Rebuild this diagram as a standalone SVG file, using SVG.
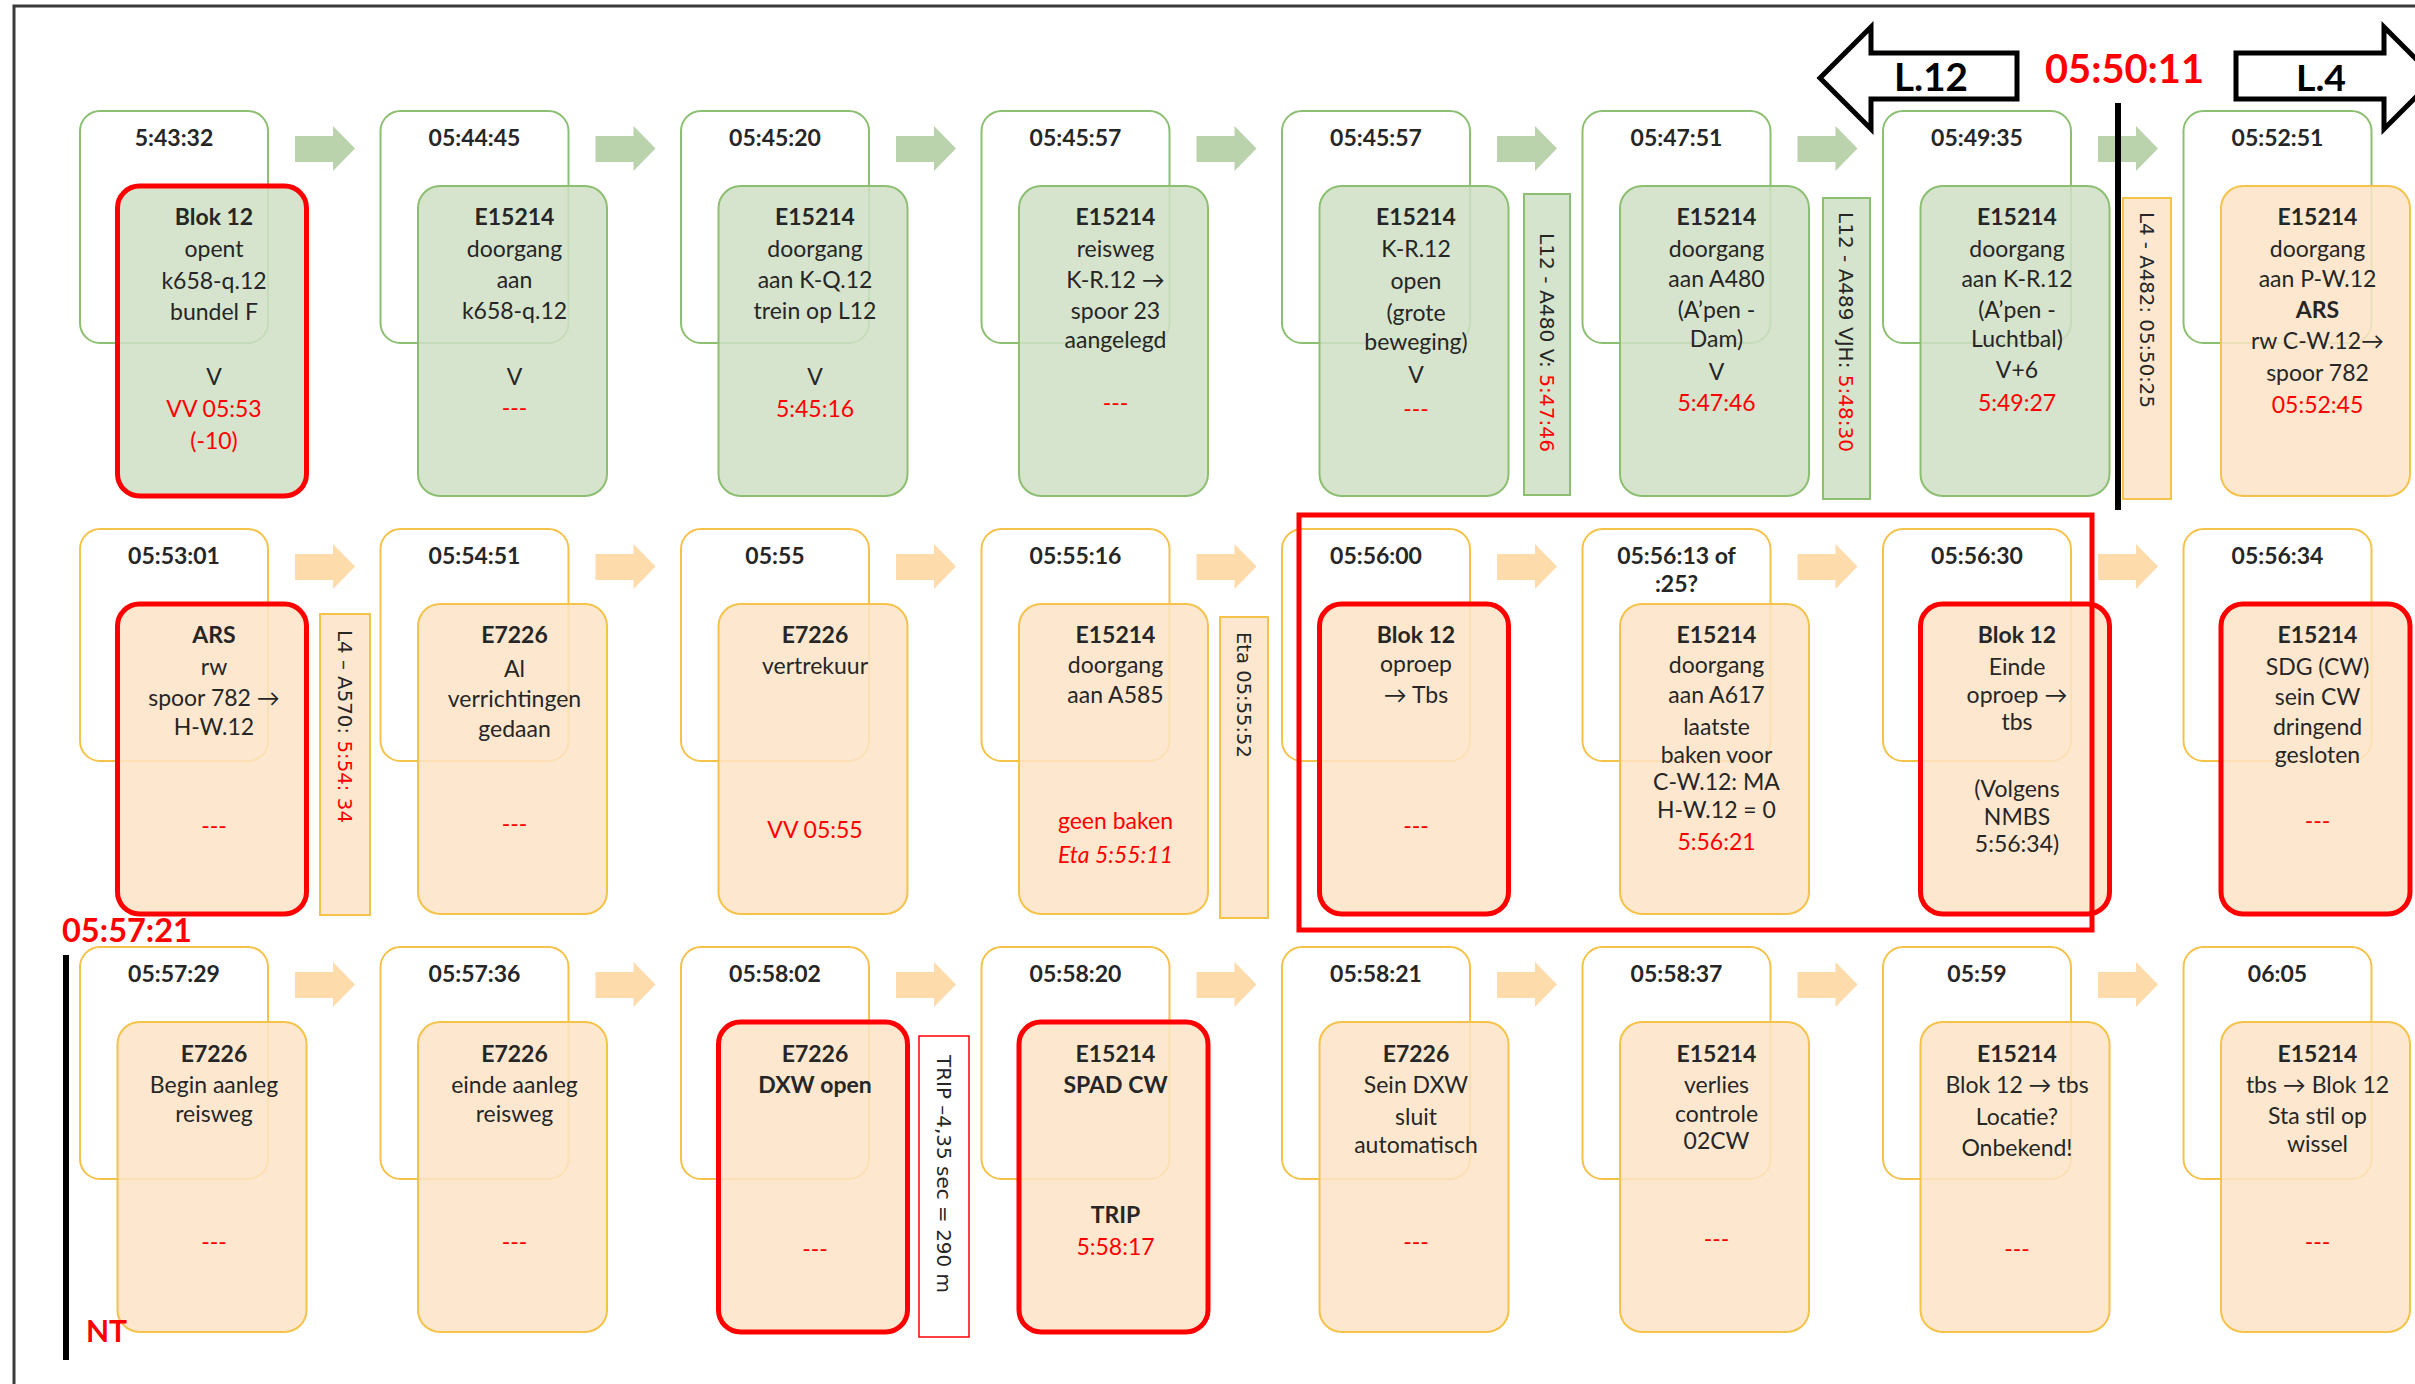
<svg xmlns="http://www.w3.org/2000/svg" width="2415" height="1384" viewBox="0 0 2415 1384">
<style>
.wg{fill:#fff;stroke:#8DBF72;stroke-width:2}
.wo{fill:#fff;stroke:#F5C24A;stroke-width:2}
.bg{fill:#CFDFC5;fill-opacity:.85;stroke:#8DBF72;stroke-width:2}
.bo{fill:#FDE4C7;fill-opacity:.85;stroke:#F5C24A;stroke-width:2}
.hl{stroke:#FF0000;stroke-width:5}
.ag{fill:#BBD3AD}
.ao{fill:#FDDBAA}
.t{font-family:Lato,'DejaVu Sans',sans-serif;font-size:23px;fill:#262626;text-anchor:middle}
.tm{font-weight:700}
.b{font-weight:700}
.r{fill:#FF0000}
.v{font-family:'DejaVu Sans',sans-serif;font-size:19.5px;fill:#262626}
.tgg{fill:#D5E4CC;stroke:#8DBF72;stroke-width:2}
.tgo{fill:#FDE8CF;stroke:#F5C24A;stroke-width:2}
.tgr{fill:#fff;stroke:#FF0000;stroke-width:1.5}
.big{font-family:Lato,'DejaVu Sans',sans-serif;font-weight:700}
</style>

<path d="M14,1384 V6 H2415" fill="none" stroke="#3a3a3a" stroke-width="3"/>

<g id="connectors">
<path class="ag" d="M295,136H333V126L355,148.5L333,171V162H295Z"/>
<path class="ag" d="M595.5,136H633.5V126L655.5,148.5L633.5,171V162H595.5Z"/>
<path class="ag" d="M896,136H934V126L956,148.5L934,171V162H896Z"/>
<path class="ag" d="M1196.5,136H1234.5V126L1256.5,148.5L1234.5,171V162H1196.5Z"/>
<path class="ag" d="M1497,136H1535V126L1557,148.5L1535,171V162H1497Z"/>
<path class="ag" d="M1797.5,136H1835.5V126L1857.5,148.5L1835.5,171V162H1797.5Z"/>
<path class="ag" d="M2098,136H2136V126L2158,148.5L2136,171V162H2098Z"/>
<path class="ao" d="M295,554H333V544L355,566.5L333,589V580H295Z"/>
<path class="ao" d="M595.5,554H633.5V544L655.5,566.5L633.5,589V580H595.5Z"/>
<path class="ao" d="M896,554H934V544L956,566.5L934,589V580H896Z"/>
<path class="ao" d="M1196.5,554H1234.5V544L1256.5,566.5L1234.5,589V580H1196.5Z"/>
<path class="ao" d="M1497,554H1535V544L1557,566.5L1535,589V580H1497Z"/>
<path class="ao" d="M1797.5,554H1835.5V544L1857.5,566.5L1835.5,589V580H1797.5Z"/>
<path class="ao" d="M2098,554H2136V544L2158,566.5L2136,589V580H2098Z"/>
<path class="ao" d="M295,972H333V962L355,984.5L333,1007V998H295Z"/>
<path class="ao" d="M595.5,972H633.5V962L655.5,984.5L633.5,1007V998H595.5Z"/>
<path class="ao" d="M896,972H934V962L956,984.5L934,1007V998H896Z"/>
<path class="ao" d="M1196.5,972H1234.5V962L1256.5,984.5L1234.5,1007V998H1196.5Z"/>
<path class="ao" d="M1497,972H1535V962L1557,984.5L1535,1007V998H1497Z"/>
<path class="ao" d="M1797.5,972H1835.5V962L1857.5,984.5L1835.5,1007V998H1797.5Z"/>
<path class="ao" d="M2098,972H2136V962L2158,984.5L2136,1007V998H2098Z"/>
</g>

<!-- Row 1 -->
<g id="r1c1">
<rect class="wg" x="80" y="111" width="188" height="232" rx="20"/>
<rect class="bg hl" x="117.5" y="186" width="189" height="310" rx="22"/>
<text class="t tm" x="174" y="146">5:43:32</text>
<text class="t"><tspan class="b" x="214" y="225">Blok 12</tspan><tspan x="214" y="257">opent</tspan><tspan x="214" y="289">k658-q.12</tspan><tspan x="214" y="320">bundel F</tspan><tspan x="214" y="385">V</tspan><tspan class="r" x="214" y="417">VV 05:53</tspan><tspan class="r" x="214" y="449">(-10)</tspan></text>
</g>
<g id="r1c2">
<rect class="wg" x="380.5" y="111" width="188" height="232" rx="20"/>
<rect class="bg" x="418" y="186" width="189" height="310" rx="22"/>
<text class="t tm" x="474.5" y="146">05:44:45</text>
<text class="t"><tspan class="b" x="514.5" y="225">E15214</tspan><tspan x="514.5" y="257">doorgang</tspan><tspan x="514.5" y="288">aan</tspan><tspan x="514.5" y="319">k658-q.12</tspan><tspan x="514.5" y="385">V</tspan><tspan class="r" x="514.5" y="416">---</tspan></text>
</g>
<g id="r1c3">
<rect class="wg" x="681" y="111" width="188" height="232" rx="20"/>
<rect class="bg" x="718.5" y="186" width="189" height="310" rx="22"/>
<text class="t tm" x="775" y="146">05:45:20</text>
<text class="t"><tspan class="b" x="815" y="225">E15214</tspan><tspan x="815" y="257">doorgang</tspan><tspan x="815" y="288">aan K-Q.12</tspan><tspan x="815" y="319">trein op L12</tspan><tspan x="815" y="385">V</tspan><tspan class="r" x="815" y="417">5:45:16</tspan></text>
</g>
<g id="r1c4">
<rect class="wg" x="981.5" y="111" width="188" height="232" rx="20"/>
<rect class="bg" x="1019" y="186" width="189" height="310" rx="22"/>
<text class="t tm" x="1075.5" y="146">05:45:57</text>
<text class="t"><tspan class="b" x="1115.5" y="225">E15214</tspan><tspan x="1115.5" y="257">reisweg</tspan><tspan x="1115.5" y="288">K-R.12 →</tspan><tspan x="1115.5" y="319">spoor 23</tspan><tspan x="1115.5" y="348">aangelegd</tspan><tspan class="r" x="1115.5" y="411">---</tspan></text>
</g>
<g id="r1c5">
<rect class="wg" x="1282" y="111" width="188" height="232" rx="20"/>
<rect class="bg" x="1319.5" y="186" width="189" height="310" rx="22"/>
<text class="t tm" x="1376" y="146">05:45:57</text>
<text class="t"><tspan class="b" x="1416" y="225">E15214</tspan><tspan x="1416" y="257">K-R.12</tspan><tspan x="1416" y="289">open</tspan><tspan x="1416" y="321">(grote</tspan><tspan x="1416" y="350">beweging)</tspan><tspan x="1416" y="383">V</tspan><tspan class="r" x="1416" y="417">---</tspan></text>
</g>
<g id="r1c6">
<rect class="wg" x="1582.5" y="111" width="188" height="232" rx="20"/>
<rect class="bg" x="1620" y="186" width="189" height="310" rx="22"/>
<text class="t tm" x="1676.5" y="146">05:47:51</text>
<text class="t"><tspan class="b" x="1716.5" y="225">E15214</tspan><tspan x="1716.5" y="257">doorgang</tspan><tspan x="1716.5" y="287">aan A480</tspan><tspan x="1716.5" y="318">(A’pen -</tspan><tspan x="1716.5" y="347">Dam)</tspan><tspan x="1716.5" y="380">V</tspan><tspan class="r" x="1716.5" y="411">5:47:46</tspan></text>
</g>
<g id="r1c7">
<rect class="wg" x="1883" y="111" width="188" height="232" rx="20"/>
<rect class="bg" x="1920.5" y="186" width="189" height="310" rx="22"/>
<text class="t tm" x="1977" y="146">05:49:35</text>
<text class="t"><tspan class="b" x="2017" y="225">E15214</tspan><tspan x="2017" y="257">doorgang</tspan><tspan x="2017" y="287">aan K-R.12</tspan><tspan x="2017" y="318">(A’pen -</tspan><tspan x="2017" y="347">Luchtbal)</tspan><tspan x="2017" y="378">V+6</tspan><tspan class="r" x="2017" y="411">5:49:27</tspan></text>
</g>
<g id="r1c8">
<rect class="wg" x="2183.5" y="111" width="188" height="232" rx="20"/>
<rect class="bo" x="2221" y="186" width="189" height="310" rx="22"/>
<text class="t tm" x="2277.5" y="146">05:52:51</text>
<text class="t"><tspan class="b" x="2317.5" y="225">E15214</tspan><tspan x="2317.5" y="257">doorgang</tspan><tspan x="2317.5" y="287">aan P-W.12</tspan><tspan class="b" x="2317.5" y="318">ARS</tspan><tspan x="2317.5" y="349">rw C-W.12→</tspan><tspan x="2317.5" y="381">spoor 782</tspan><tspan class="r" x="2317.5" y="413">05:52:45</tspan></text>
</g>

<!-- Row 2 -->
<g id="r2c1">
<rect class="wo" x="80" y="529" width="188" height="232" rx="20"/>
<rect class="bo hl" x="117.5" y="604" width="189" height="310" rx="22"/>
<text class="t tm" x="174" y="564">05:53:01</text>
<text class="t"><tspan class="b" x="214" y="643">ARS</tspan><tspan x="214" y="675">rw</tspan><tspan x="214" y="706">spoor 782 →</tspan><tspan x="214" y="735">H-W.12</tspan><tspan class="r" x="214" y="834">---</tspan></text>
</g>
<g id="r2c2">
<rect class="wo" x="380.5" y="529" width="188" height="232" rx="20"/>
<rect class="bo" x="418" y="604" width="189" height="310" rx="22"/>
<text class="t tm" x="474.5" y="564">05:54:51</text>
<text class="t"><tspan class="b" x="514.5" y="643">E7226</tspan><tspan x="514.5" y="677">Al</tspan><tspan x="514.5" y="707">verrichtingen</tspan><tspan x="514.5" y="737">gedaan</tspan><tspan class="r" x="514.5" y="832">---</tspan></text>
</g>
<g id="r2c3">
<rect class="wo" x="681" y="529" width="188" height="232" rx="20"/>
<rect class="bo" x="718.5" y="604" width="189" height="310" rx="22"/>
<text class="t tm" x="775" y="564">05:55</text>
<text class="t"><tspan class="b" x="815" y="643">E7226</tspan><tspan x="815" y="674">vertrekuur</tspan><tspan class="r" x="815" y="838">VV 05:55</tspan></text>
</g>
<g id="r2c4">
<rect class="wo" x="981.5" y="529" width="188" height="232" rx="20"/>
<rect class="bo" x="1019" y="604" width="189" height="310" rx="22"/>
<text class="t tm" x="1075.5" y="564">05:55:16</text>
<text class="t"><tspan class="b" x="1115.5" y="643">E15214</tspan><tspan x="1115.5" y="673">doorgang</tspan><tspan x="1115.5" y="703">aan A585</tspan><tspan class="r" x="1115.5" y="829">geen  baken</tspan><tspan class="r" font-style="italic" x="1115.5" y="863">Eta 5:55:11</tspan></text>
</g>
<g id="r2c5">
<rect class="wo" x="1282" y="529" width="188" height="232" rx="20"/>
<rect class="bo hl" x="1319.5" y="604" width="189" height="310" rx="22"/>
<text class="t tm" x="1376" y="564">05:56:00</text>
<text class="t"><tspan class="b" x="1416" y="643">Blok 12</tspan><tspan x="1416" y="672">oproep</tspan><tspan x="1416" y="703">→ Tbs</tspan><tspan class="r" x="1416" y="834">---</tspan></text>
</g>
<g id="r2c6">
<rect class="wo" x="1582.5" y="529" width="188" height="232" rx="20"/>
<rect class="bo" x="1620" y="604" width="189" height="310" rx="22"/>
<text class="t tm"><tspan x="1676.5" y="564">05:56:13 of</tspan><tspan x="1676.5" y="592">:25?</tspan></text>
<text class="t"><tspan class="b" x="1716.5" y="643">E15214</tspan><tspan x="1716.5" y="673">doorgang</tspan><tspan x="1716.5" y="703">aan A617</tspan><tspan x="1716.5" y="735">laatste</tspan><tspan x="1716.5" y="763">baken voor</tspan><tspan x="1716.5" y="790">C-W.12: MA</tspan><tspan x="1716.5" y="818">H-W.12 = 0</tspan><tspan class="r" x="1716.5" y="850">5:56:21</tspan></text>
</g>
<g id="r2c7">
<rect class="wo" x="1883" y="529" width="188" height="232" rx="20"/>
<rect class="bo hl" x="1920.5" y="604" width="189" height="310" rx="22"/>
<text class="t tm" x="1977" y="564">05:56:30</text>
<text class="t"><tspan class="b" x="2017" y="643">Blok 12</tspan><tspan x="2017" y="675">Einde</tspan><tspan x="2017" y="703">oproep →</tspan><tspan x="2017" y="730">tbs</tspan><tspan x="2017" y="797">(Volgens</tspan><tspan x="2017" y="825">NMBS</tspan><tspan x="2017" y="852">5:56:34)</tspan></text>
</g>
<g id="r2c8">
<rect class="wo" x="2183.5" y="529" width="188" height="232" rx="20"/>
<rect class="bo hl" x="2221" y="604" width="189" height="310" rx="22"/>
<text class="t tm" x="2277.5" y="564">05:56:34</text>
<text class="t"><tspan class="b" x="2317.5" y="643">E15214</tspan><tspan x="2317.5" y="675">SDG (CW)</tspan><tspan x="2317.5" y="705">sein CW</tspan><tspan x="2317.5" y="735">dringend</tspan><tspan x="2317.5" y="763">gesloten</tspan><tspan class="r" x="2317.5" y="829">---</tspan></text>
</g>

<!-- Row 3 -->
<g id="r3c1">
<rect class="wo" x="80" y="947" width="188" height="232" rx="20"/>
<rect class="bo" x="117.5" y="1022" width="189" height="310" rx="22"/>
<text class="t tm" x="174" y="982">05:57:29</text>
<text class="t"><tspan class="b" x="214" y="1062">E7226</tspan><tspan x="214" y="1093">Begin aanleg</tspan><tspan x="214" y="1122">reisweg</tspan><tspan class="r" x="214" y="1250">---</tspan></text>
</g>
<g id="r3c2">
<rect class="wo" x="380.5" y="947" width="188" height="232" rx="20"/>
<rect class="bo" x="418" y="1022" width="189" height="310" rx="22"/>
<text class="t tm" x="474.5" y="982">05:57:36</text>
<text class="t"><tspan class="b" x="514.5" y="1062">E7226</tspan><tspan x="514.5" y="1093">einde aanleg</tspan><tspan x="514.5" y="1122">reisweg</tspan><tspan class="r" x="514.5" y="1250">---</tspan></text>
</g>
<g id="r3c3">
<rect class="wo" x="681" y="947" width="188" height="232" rx="20"/>
<rect class="bo hl" x="718.5" y="1022" width="189" height="310" rx="22"/>
<text class="t tm" x="775" y="982">05:58:02</text>
<text class="t"><tspan class="b" x="815" y="1062">E7226</tspan><tspan class="b" x="815" y="1093">DXW open</tspan><tspan class="r" x="815" y="1257">---</tspan></text>
</g>
<g id="r3c4">
<rect class="wo" x="981.5" y="947" width="188" height="232" rx="20"/>
<rect class="bo hl" x="1019" y="1022" width="189" height="310" rx="22"/>
<text class="t tm" x="1075.5" y="982">05:58:20</text>
<text class="t"><tspan class="b" x="1115.5" y="1062">E15214</tspan><tspan class="b" x="1115.5" y="1093">SPAD CW</tspan><tspan class="b" x="1115.5" y="1223">TRIP</tspan><tspan class="r" x="1115.5" y="1255">5:58:17</tspan></text>
</g>
<g id="r3c5">
<rect class="wo" x="1282" y="947" width="188" height="232" rx="20"/>
<rect class="bo" x="1319.5" y="1022" width="189" height="310" rx="22"/>
<text class="t tm" x="1376" y="982">05:58:21</text>
<text class="t"><tspan class="b" x="1416" y="1062">E7226</tspan><tspan x="1416" y="1093">Sein DXW</tspan><tspan x="1416" y="1125">sluit</tspan><tspan x="1416" y="1153">automatisch</tspan><tspan class="r" x="1416" y="1250">---</tspan></text>
</g>
<g id="r3c6">
<rect class="wo" x="1582.5" y="947" width="188" height="232" rx="20"/>
<rect class="bo" x="1620" y="1022" width="189" height="310" rx="22"/>
<text class="t tm" x="1676.5" y="982">05:58:37</text>
<text class="t"><tspan class="b" x="1716.5" y="1062">E15214</tspan><tspan x="1716.5" y="1093">verlies</tspan><tspan x="1716.5" y="1122">controle</tspan><tspan x="1716.5" y="1149">02CW</tspan><tspan class="r" x="1716.5" y="1247">---</tspan></text>
</g>
<g id="r3c7">
<rect class="wo" x="1883" y="947" width="188" height="232" rx="20"/>
<rect class="bo" x="1920.5" y="1022" width="189" height="310" rx="22"/>
<text class="t tm" x="1977" y="982">05:59</text>
<text class="t"><tspan class="b" x="2017" y="1062">E15214</tspan><tspan x="2017" y="1093">Blok 12 → tbs</tspan><tspan x="2017" y="1125">Locatie?</tspan><tspan x="2017" y="1156">Onbekend!</tspan><tspan class="r" x="2017" y="1257">---</tspan></text>
</g>
<g id="r3c8">
<rect class="wo" x="2183.5" y="947" width="188" height="232" rx="20"/>
<rect class="bo" x="2221" y="1022" width="189" height="310" rx="22"/>
<text class="t tm" x="2277.5" y="982">06:05</text>
<text class="t"><tspan class="b" x="2317.5" y="1062">E15214</tspan><tspan x="2317.5" y="1093">tbs → Blok 12</tspan><tspan x="2317.5" y="1124">Sta stil op</tspan><tspan x="2317.5" y="1152">wissel</tspan><tspan class="r" x="2317.5" y="1250">---</tspan></text>
</g>

<!-- vertical tags -->
<g id="tag-l12-a480">
<rect class="tgg" x="1524" y="194" width="46" height="301"/>
<text class="v" transform="translate(1547,233) rotate(90)" dy="0.35em" textLength="219" lengthAdjust="spacingAndGlyphs">L12 - A480 V: <tspan class="r">5:47:46</tspan></text>
</g>
<g id="tag-l12-a489">
<rect class="tgg" x="1823" y="198" width="47" height="301"/>
<text class="v" transform="translate(1846,212) rotate(90)" dy="0.35em" textLength="240" lengthAdjust="spacingAndGlyphs">L12 - A489 VJH: <tspan class="r">5:48:30</tspan></text>
</g>
<g id="tag-l4-a482">
<rect class="tgo" x="2123" y="198" width="48" height="301"/>
<text class="v" transform="translate(2147,212) rotate(90)" dy="0.35em" textLength="196" lengthAdjust="spacingAndGlyphs">L4 - A482: 05:50:25</text>
</g>
<g id="tag-l4-a570">
<rect class="tgo" x="320" y="614" width="50" height="301"/>
<text class="v" transform="translate(345,630) rotate(90)" dy="0.35em" textLength="193" lengthAdjust="spacingAndGlyphs">L4 – A570: <tspan class="r">5:54: 34</tspan></text>
</g>
<g id="tag-eta">
<rect class="tgo" x="1220" y="617" width="48" height="301"/>
<text class="v r" transform="translate(1244,632) rotate(90)" dy="0.35em" textLength="126" lengthAdjust="spacingAndGlyphs">Eta 05:55:52</text>
</g>
<g id="tag-trip">
<rect class="tgr" x="919" y="1036" width="50" height="301"/>
<text class="v r" transform="translate(944,1055) rotate(90)" dy="0.35em" textLength="238" lengthAdjust="spacingAndGlyphs">TRIP –4,35 sec = 290 m</text>
</g>

<!-- highlight frame -->
<rect id="highlight" x="1299" y="515" width="793" height="415" fill="none" stroke="#FF0000" stroke-width="5"/>

<!-- top annotations -->
<g id="arrow-l12">
<path d="M1871,27 L1820,78 L1871,129 V99 H2017 V53 H1871 Z" fill="#fff" stroke="#000" stroke-width="5" stroke-linejoin="miter"/>
<text class="big" x="1894" y="91" font-size="38" textLength="74" lengthAdjust="spacingAndGlyphs" fill="#000">L.12</text>
</g>
<g id="arrow-l4">
<path d="M2236,53 H2384 V27 L2435,78 L2384,129 V99 H2236 Z" fill="#fff" stroke="#000" stroke-width="5"/>
<text class="big" x="2296" y="91" font-size="37" textLength="50" lengthAdjust="spacingAndGlyphs" fill="#000">L.4</text>
</g>
<text id="t-055011" class="big" x="2045" y="83" font-size="40" textLength="159" lengthAdjust="spacingAndGlyphs" fill="#FF0000">05:50:11</text>
<line id="line-055011" x1="2118" y1="103" x2="2118" y2="510" stroke="#000" stroke-width="6"/>

<text id="t-055721" class="big" x="62" y="942" font-size="32" textLength="130" lengthAdjust="spacingAndGlyphs" fill="#FF0000">05:57:21</text>
<line id="line-nt" x1="66" y1="955" x2="66" y2="1360" stroke="#000" stroke-width="6"/>
<text id="t-nt" class="big" x="86" y="1342" font-size="30" fill="#FF0000">NT</text>
</svg>
